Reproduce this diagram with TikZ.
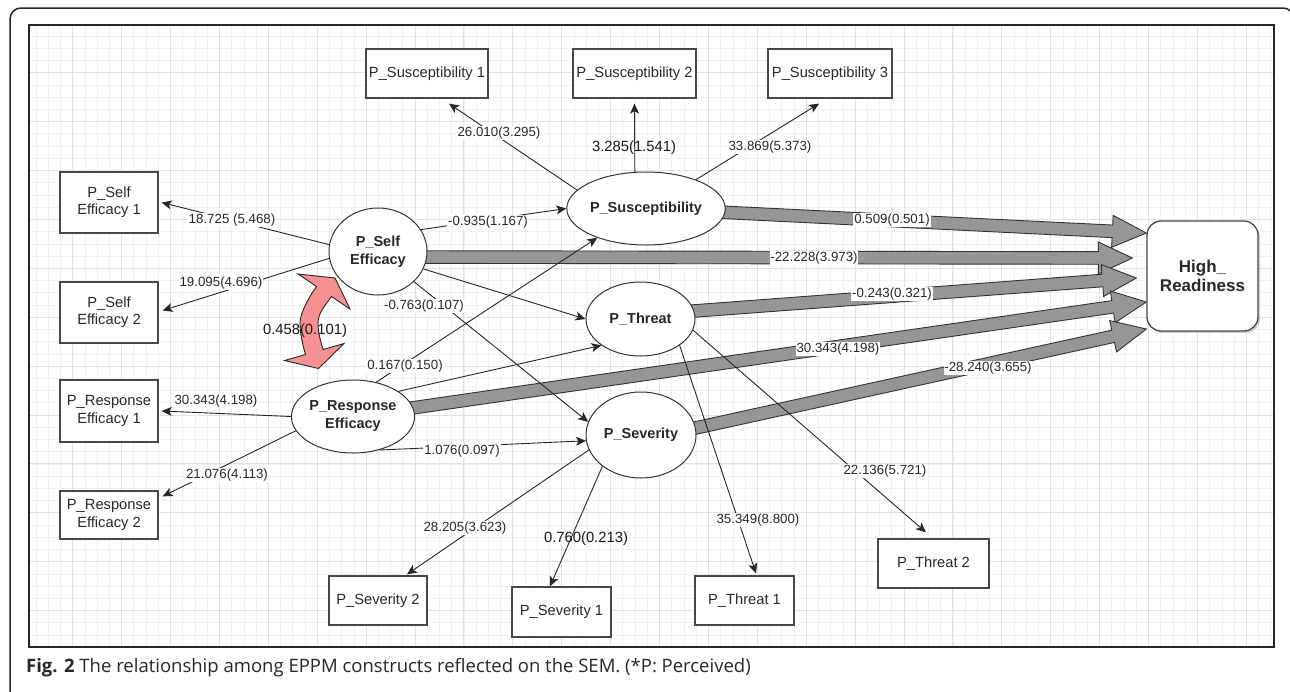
\documentclass[tikz,border=0pt]{standalone}
\usepackage{fontspec}
\setmainfont{Liberation Sans}
\newfontfamily\capfont{Open Sans}
\usetikzlibrary{shapes.geometric,arrows.meta,calc,shadows}

\definecolor{blockgray}{RGB}{150,150,150}
\definecolor{redfill}{RGB}{245,145,145}
\definecolor{gridminor}{RGB}{241,241,241}
\definecolor{gridmajor}{RGB}{226,226,226}
\definecolor{ink}{RGB}{40,40,40}

\newcommand\lblfont{\fontsize{13.3}{15}\selectfont}
\newcommand\biglblfont{\fontsize{14.8}{17}\selectfont}
\newcommand\boxfont{\fontsize{14.7}{17.3}\selectfont}
\newcommand\latfont{\bfseries\fontsize{14.5}{18}\selectfont}

\pgfdeclarelayer{gridlayer}
\pgfdeclarelayer{bglayer}
\pgfsetlayers{gridlayer,bglayer,main}

\newcommand\blockarr[2]{%
  \coordinate (baS) at (#1);
  \coordinate (baE) at (#2);
  \coordinate (baH) at ($(baE)!34pt!(baS)$);
  \filldraw[blockstyle] ($(baS)!6.3pt!90:(baE)$) -- ($(baH)!6.3pt!90:(baE)$)
    -- ($(baH)!16pt!90:(baE)$) -- (baE) -- ($(baH)!16pt!-90:(baE)$)
    -- ($(baH)!6.3pt!-90:(baE)$) -- ($(baS)!6.3pt!-90:(baE)$) -- cycle;
}

\tikzset{
  box/.style={draw=black!72, line width=1.3pt, fill=white, minimum width=98pt,
    minimum height=49pt, align=center, font=\boxfont, text=ink, inner sep=0pt},
  lat/.style={ellipse, draw=black!80, line width=1pt, fill=white, inner sep=0pt,
    align=center, font=\latfont, text=ink},
  lbl/.style={fill=white, inner sep=0.8pt, font=\lblfont, text=ink},
  biglbl/.style={inner sep=0pt, font=\biglblfont, text=black!90},
  arr/.style={draw=black!85, line width=0.9pt, -{Stealth[length=10pt,width=9pt,inset=2.5pt]}},
  blockstyle/.style={fill=blockgray, draw=black!80, line width=0.9pt, line join=miter},
  hrbox/.style={draw=black!72, line width=1.3pt, fill=white, rounded corners=14pt,
    minimum width=111pt, minimum height=110pt, align=center, text=ink,
    font=\bfseries\fontsize{17}{19.5}\selectfont, inner sep=0pt,
    drop shadow={shadow xshift=2pt, shadow yshift=-2pt, opacity=0.35}},
}

\begin{document}
\begin{tikzpicture}[x=1pt,y=-1pt]
\useasboundingbox (0,0) rectangle (1290,691);
\clip (0,0) rectangle (1290,691);

\begin{pgfonlayer}{gridlayer}
\fill[white] (0,0) rectangle (1290,691);
\foreach \i in {1,...,102}{\draw[gridminor, line width=0.7pt] ({23.8+12.225*\i},25) -- ({23.8+12.225*\i},647);}
\foreach \i in {1,...,50}{\draw[gridminor, line width=0.7pt] (29,{23.8+12.225*\i}) -- (1274,{23.8+12.225*\i});}
\foreach \i in {1,...,25}{\draw[gridmajor, line width=0.9pt] ({23.8+48.9*\i},25) -- ({23.8+48.9*\i},647);}
\foreach \i in {1,...,12}{\draw[gridmajor, line width=0.9pt] (29,{23.8+48.9*\i}) -- (1274,{23.8+48.9*\i});}
\draw[line width=1.4pt, black!85] (29,25) rectangle (1274,647);
\draw[line width=1.5pt, black!85, rounded corners=11pt] (10,8) rectangle (1294,702);
\end{pgfonlayer}

% indicator boxes
\node[box, minimum width=122pt] (s1) at (427,73.5) {P\_Susceptibility 1};
\node[box, minimum width=123pt] (s2) at (634.5,73.5) {P\_Susceptibility 2};
\node[box, minimum width=124pt] (s3) at (830,73.5) {P\_Susceptibility 3};
\node[box, minimum height=61pt] (e1) at (109,202.5) {P\_Self\\Efficacy 1};
\node[box, minimum height=61pt] (e2) at (109,312.5) {P\_Self\\Efficacy 2};
\node[box, minimum height=62pt] (r1) at (109,411) {P\_Response\\Efficacy 1};
\node[box, minimum height=48pt] (r2) at (109,515) {P\_Response\\Efficacy 2};
\node[box] (sv2) at (378,600.5) {P\_Severity 2};
\node[box, minimum width=99pt, minimum height=50pt] (sv1) at (561.5,612) {P\_Severity 1};
\node[box, minimum width=99pt] (t1) at (744.5,600.5) {P\_Threat 1};
\node[box, minimum width=111pt] (t2) at (933.5,563.5) {P\_Threat 2};
\node[hrbox] (hr) at (1202.5,276) {High\_\\Readiness};

% latent variables
\node[lat, minimum width=98pt, minimum height=87pt] (se) at (378,251.5) {P\_Self\\Efficacy};
\node[lat, minimum width=98pt, minimum height=73pt] (re) at (353,416.5) {P\_Response\\Efficacy};
\node[lat, minimum width=122pt, minimum height=73pt] (ps) at (646,208.5) {P\_Susceptibility};
\node[lat, minimum width=109pt, minimum height=74pt] (pt) at (640.5,319) {P\_Threat};
\node[lat, minimum width=110pt, minimum height=86pt] (psv) at (641,435) {P\_Severity};

% block arrows to High_Readiness
\begin{pgfonlayer}{bglayer}
\blockarr{ps.center}{$(hr.west)+(0,-43)$}
\blockarr{$(se.center)+(0,5.5)$}{$(hr.west)+(-14,-18)$}
\blockarr{$(pt.center)+(0,-4)$}{$(hr.west)+(-10,2)$}
\blockarr{re.center}{$(hr.west)+(0,26)$}
\blockarr{$(psv.center)+(0,5)$}{$(hr.west)+(0,53)$}
\end{pgfonlayer}

% measurement arrows
\draw[arr] (ps.165) -- ($(s1.south)+(22,5)$);
\draw[arr] (ps.107) -- ($(s2.south)+(0,5)$);
\draw[arr] (ps.30) -- ($(s3.south)+(-11,5)$);
\draw[arr] (se.172) -- ($(e1.east)+(3,0)$);
\draw[arr] (se.188) -- ($(e2.east)+(4,-2)$);
\draw[arr] (re.180) -- ($(r1.east)+(3,0)$);
\draw[arr] (re.194) -- ($(r2.north east)+(4,6)$);
\draw[arr] (psv.196) -- ($(sv2.north)+(29,-1)$);
\draw[arr] (psv.219) -- ($(sv1.north)+(-11.5,0)$);
\draw[arr] (pt.326) -- ($(t1.north)+(11.5,-2)$);
\draw[arr] (pt.348) -- ($(t2.north)+(-7.5,-6)$);

% structural arrows
\draw[arr] (se.27) -- (ps.west);
\draw[arr] (se.339) -- (pt.west);
\draw[arr] (se.320) -- (psv.166);
\draw[arr] (re.56) -- (ps.211);
\draw[arr] (re.29) -- (pt.214);
\draw[arr] (re.308) -- (psv.186);

% red covariance double arrow
\filldraw[fill=redfill, draw=black!85, line width=0.9pt, line join=miter]
 (335,278) -- (350,309) -- (331.5,296.5)
 .. controls (325.5,305) and (318,313) .. (318,323)
 .. controls (318,333) and (320.5,340.4) .. (323,349.5)
 -- (344,343.5) -- (318.5,368.5) -- (284.5,360.5) -- (305.5,354.5)
 .. controls (302.5,344.4) and (300,333) .. (300,323)
 .. controls (300,312) and (310.5,295) .. (316.5,286.5)
 -- (298,274) -- cycle;

% labels
\node[lbl] (l1) at (499,133) {26.010(3.295)};
\node[biglbl] (l2) at (634,148) {3.285(1.541)};
\node[lbl] (l3) at (770,147) {33.869(5.373)};
\node[lbl] (l4) at (232,220) {18.725 (5.468)};
\node[lbl] (l5) at (221,283) {19.095(4.696)};
\node[lbl] (l6) at (216,401) {30.343(4.198)};
\node[lbl] (l7) at (227,475) {21.076(4.113)};
\node[lbl] (l8) at (465,528) {28.205(3.623)};
\node[biglbl] (l9) at (586,539) {0.760(0.213)};
\node[lbl] (l10) at (758,520) {35.349(8.800)};
\node[lbl] (l11) at (885,471) {22.136(5.721)};
\node[lbl] (l12) at (488,222) {-0.935(1.167)};
\node[lbl] (l13) at (424,306) {-0.763(0.107)};
\node[lbl] (l14) at (405,366) {0.167(0.150)};
\node[lbl] (l15) at (462,451) {1.076(0.097)};
\node[biglbl] (l16) at (305,331) {0.458(0.101)};
\node[lbl] (l17) at (892,220) {0.509(0.501)};
\node[lbl] (l18) at (814,258) {-22.228(3.973)};
\node[lbl] (l19) at (892,294) {-0.243(0.321)};
\node[lbl] (l20) at (838,349) {30.343(4.198)};
\node[lbl] (l21) at (988,368) {-28.240(3.655)};

% caption
\node[anchor=base west, inner sep=0pt, text=ink, font=\capfont\fontsize{18.5}{22}\selectfont] (cap) at (26,672)
  {\textbf{Fig. 2} The relationship among EPPM constructs reflected on the SEM. (*P: Perceived)};
\end{tikzpicture}
\end{document}
